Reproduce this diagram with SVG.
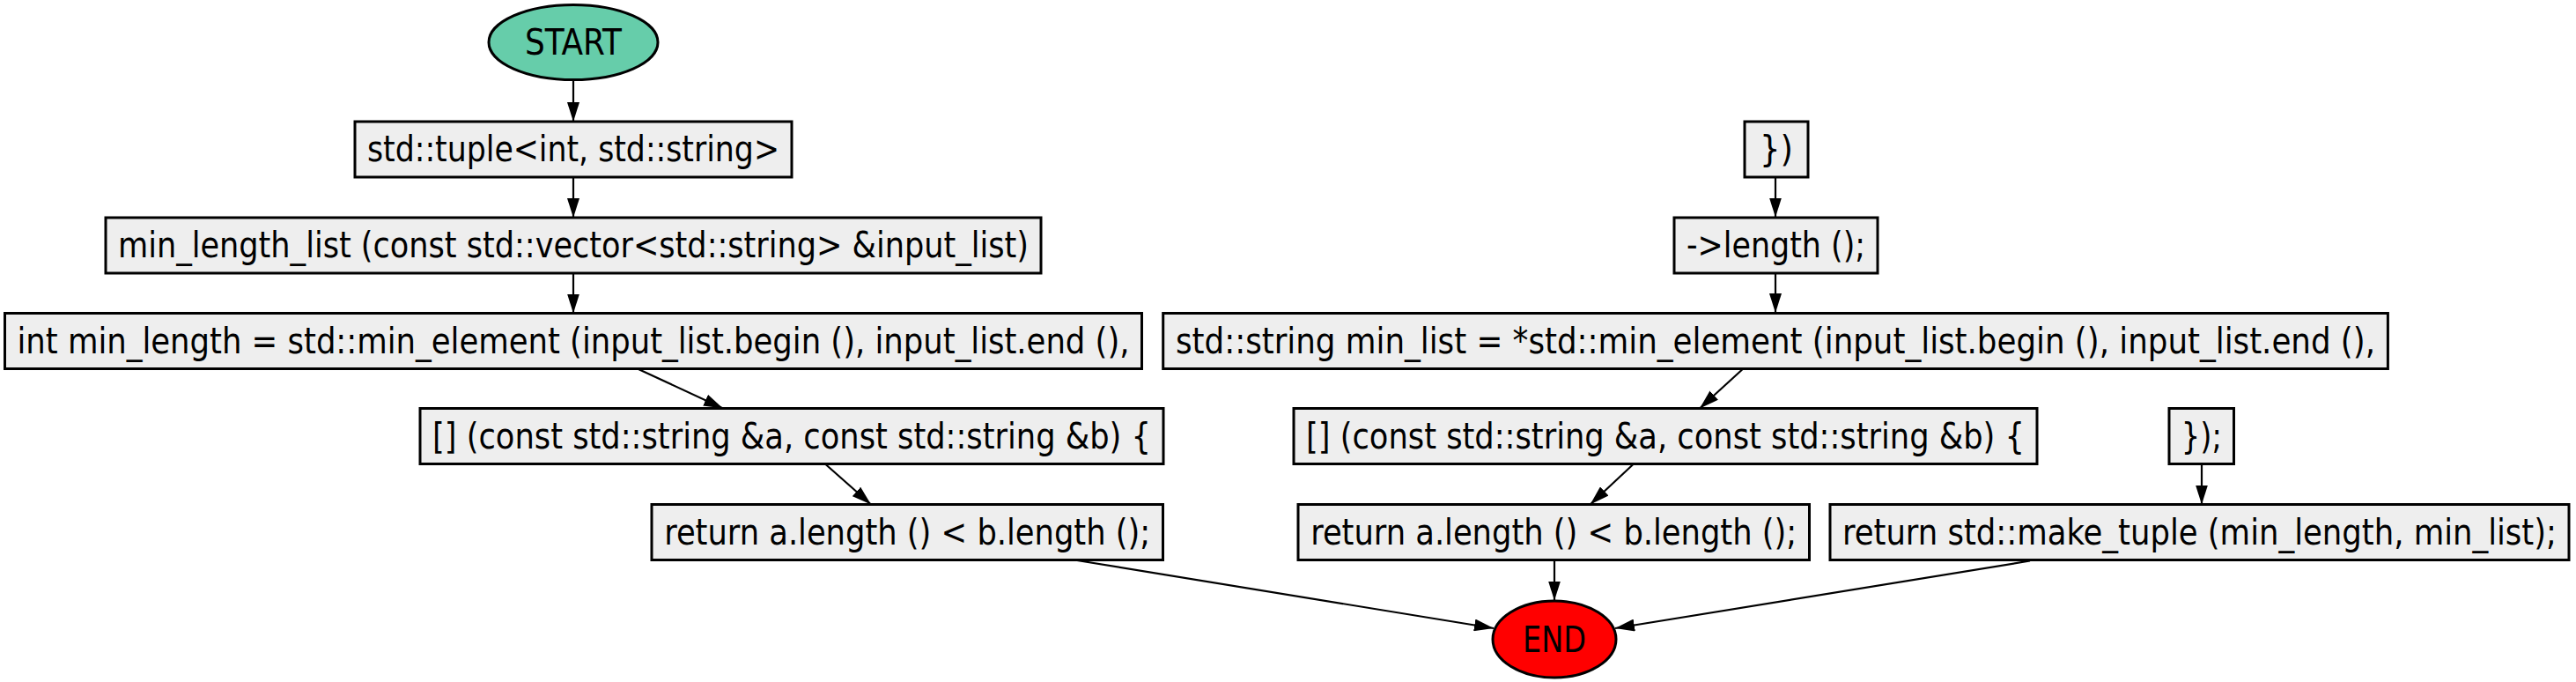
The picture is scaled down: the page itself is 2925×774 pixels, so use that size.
<svg xmlns="http://www.w3.org/2000/svg" width="2925" height="774" viewBox="0 0 2925 774">
<defs>
<marker id="arr" markerUnits="userSpaceOnUse" markerWidth="22" markerHeight="14" refX="22" refY="7" orient="auto">
<path d="M0,0 L22,7 L0,14 z" fill="#000"/>
</marker>
<style>
.box{fill:#eeeeee;stroke:#000;stroke-width:3}
.t{font-family:"DejaVu Sans Condensed","DejaVu Sans",sans-serif;font-stretch:condensed;font-size:40px;fill:#000;text-anchor:middle}
.e{stroke:#000;stroke-width:2.2;fill:none;marker-end:url(#arr)}
</style>
</defs>
<rect width="2925" height="774" fill="#fff"/>
<g id="edges">
<line class="e" x1="651" y1="90.5" x2="651" y2="138"/>
<line class="e" x1="651" y1="201" x2="651" y2="247"/>
<line class="e" x1="651" y1="310" x2="651" y2="355.5"/>
<line class="e" x1="725" y1="419" x2="821" y2="463.5"/>
<line class="e" x1="937.5" y1="527" x2="989" y2="572.5"/>
<line class="e" x1="1223" y1="636" x2="1696" y2="713"/>
<line class="e" x1="2016" y1="201" x2="2016" y2="246.5"/>
<line class="e" x1="2016" y1="310" x2="2016" y2="355"/>
<line class="e" x1="1978.7" y1="419" x2="1930" y2="463.5"/>
<line class="e" x1="1854.4" y1="527" x2="1805.7" y2="572.5"/>
<line class="e" x1="1765" y1="636" x2="1765" y2="681.5"/>
<line class="e" x1="2500" y1="527" x2="2500" y2="572.5"/>
<line class="e" x1="2305" y1="636.5" x2="1834" y2="713"/>
</g>
<g id="start">
<ellipse cx="651" cy="48" rx="96" ry="42.5" fill="#66cdaa" stroke="#000" stroke-width="3"/>
<text class="t" x="651" y="62" textLength="110" lengthAdjust="spacingAndGlyphs">START</text>
</g>
<g id="n_tuple">
<rect class="box" x="403" y="138" width="496" height="63"/>
<text class="t" x="651" y="183" textLength="468" lengthAdjust="spacingAndGlyphs">std::tuple&lt;int, std::string&gt;</text>
</g>
<g id="n_mll">
<rect class="box" x="120" y="247" width="1062" height="63"/>
<text class="t" x="651" y="292" textLength="1034" lengthAdjust="spacingAndGlyphs">min_length_list (const std::vector&lt;std::string&gt; &amp;input_list)</text>
</g>
<g id="n_int">
<rect class="box" x="5.5" y="355.5" width="1291" height="63"/>
<text class="t" x="651" y="400.5" textLength="1263" lengthAdjust="spacingAndGlyphs">int min_length = std::min_element (input_list.begin (), input_list.end (),</text>
</g>
<g id="n_lambda1">
<rect class="box" x="477" y="463.5" width="844" height="63"/>
<text class="t" x="899" y="508.5" textLength="816" lengthAdjust="spacingAndGlyphs">[] (const std::string &amp;a, const std::string &amp;b) {</text>
</g>
<g id="n_ret1">
<rect class="box" x="740" y="572.5" width="580.5" height="63"/>
<text class="t" x="1030.25" y="617.5" textLength="552" lengthAdjust="spacingAndGlyphs">return a.length () &lt; b.length ();</text>
</g>
<g id="n_close1">
<rect class="box" x="1981" y="138" width="72" height="63"/>
<text class="t" x="2017" y="183" textLength="38" lengthAdjust="spacingAndGlyphs">})</text>
</g>
<g id="n_length">
<rect class="box" x="1901" y="247" width="231" height="63"/>
<text class="t" x="2016.5" y="292" textLength="203" lengthAdjust="spacingAndGlyphs">-&gt;length ();</text>
</g>
<g id="n_minlist">
<rect class="box" x="1320.7" y="355.5" width="1390.7" height="63"/>
<text class="t" x="2016" y="400.5" textLength="1362" lengthAdjust="spacingAndGlyphs">std::string min_list = *std::min_element (input_list.begin (), input_list.end (),</text>
</g>
<g id="n_lambda2">
<rect class="box" x="1469" y="463.5" width="844" height="63"/>
<text class="t" x="1891" y="508.5" textLength="816" lengthAdjust="spacingAndGlyphs">[] (const std::string &amp;a, const std::string &amp;b) {</text>
</g>
<g id="n_close2">
<rect class="box" x="2463" y="463.5" width="73.5" height="63"/>
<text class="t" x="2499.75" y="508.5" textLength="46" lengthAdjust="spacingAndGlyphs">});</text>
</g>
<g id="n_ret2">
<rect class="box" x="1474" y="572.5" width="580.5" height="63"/>
<text class="t" x="1764.25" y="617.5" textLength="552" lengthAdjust="spacingAndGlyphs">return a.length () &lt; b.length ();</text>
</g>
<g id="n_tuple_ret">
<rect class="box" x="2078" y="572.5" width="839" height="63"/>
<text class="t" x="2497.5" y="617.5" textLength="811" lengthAdjust="spacingAndGlyphs">return std::make_tuple (min_length, min_list);</text>
</g>
<g id="end">
<ellipse cx="1765" cy="725.5" rx="70" ry="43.5" fill="#ff0000" stroke="#000" stroke-width="3"/>
<text class="t" x="1765" y="740" textLength="72" lengthAdjust="spacingAndGlyphs">END</text>
</g>
</svg>
